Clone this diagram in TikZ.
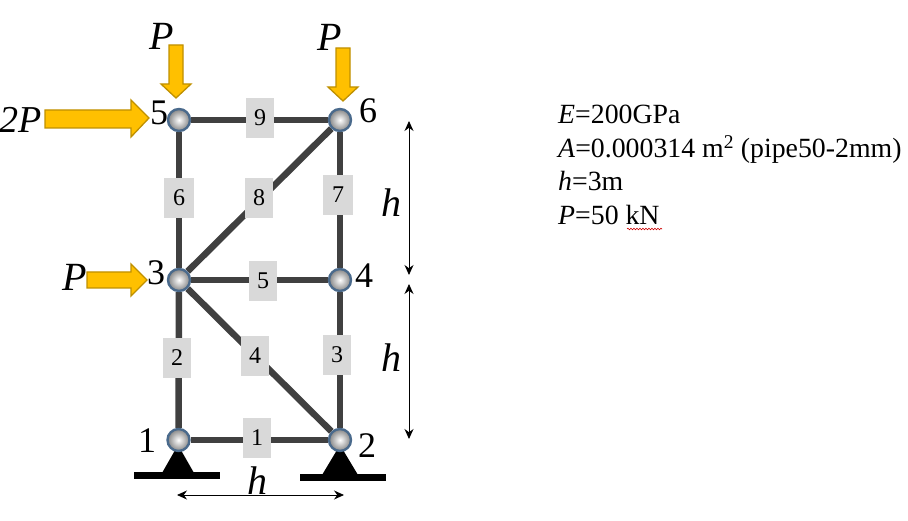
\documentclass[tikz,border=0pt]{standalone}
\usepackage{fontspec}
\setmainfont{Liberation Serif}
\usetikzlibrary{backgrounds,decorations.pathmorphing,arrows.meta}
\definecolor{member}{HTML}{404040}
\definecolor{tagfill}{HTML}{D9D9D9}
\definecolor{loadfill}{HTML}{FFC000}
\definecolor{loadedge}{HTML}{BF9000}
\definecolor{ballrim}{HTML}{4A6A8C}
\tikzset{
  x=1pt,y=-1pt,
  joint/.style={circle,draw=ballrim,line width=2.4pt,minimum size=22pt,inner sep=0pt,inner color=white,outer color=black!48},
  memberline/.style={draw=member,line width=6.5pt},
  tag/.style={fill=tagfill,minimum width=28pt,minimum height=40pt,inner sep=0pt,font=\fontsize{24}{24}\selectfont},
  jointlabel/.style={inner sep=0pt,font=\fontsize{36}{36}\selectfont},
  symlabel/.style={inner sep=0pt,font=\fontsize{40}{40}\selectfont\itshape},
  load/.style={fill=loadfill,draw=loadedge,line width=1.3pt,line join=miter},
  base/.style={fill=black,draw=none},
  dim/.style={draw=black,line width=0.9pt,{Stealth[length=10pt,width=9pt]}-{Stealth[length=10pt,width=9pt]}},
  prop/.style={anchor=base west,inner sep=0pt,font=\fontsize{27.8}{27.8}\selectfont},
}
\begin{document}
\begin{tikzpicture}
\useasboundingbox (0,0) rectangle (908,521);
% supports
\fill[base] (178,445) -- (162,473) -- (194,473) -- cycle;
\fill[base] (134,472) rectangle (220,479);
\fill[base] (340,445) -- (322,475) -- (358,475) -- cycle;
\fill[base] (300,474) rectangle (386,481);
% joints
\node[joint] (n1) at (178.5,440) {};
\node[joint] (n2) at (340,440) {};
\node[joint] (n3) at (179,280) {};
\node[joint] (n4) at (340,280) {};
\node[joint] (n5) at (179,120) {};
\node[joint] (n6) at (340,120) {};
% member tags
\node[tag] (t1) at (257,438) {1};
\node[tag] (t2) at (177,358) {2};
\node[tag] (t3) at (337,355) {3};
\node[tag] (t4) at (255,356) {4};
\node[tag] (t5) at (263,281) {5};
\node[tag,minimum width=30pt] (t6) at (179,198) {6};
\node[tag,minimum width=30pt] (t7) at (338,195) {7};
\node[tag] (t8) at (259,198) {8};
\node[tag] (t9) at (260,118) {9};
% members
\begin{scope}[on background layer]
\draw[memberline] (n1) -- (n2);
\draw[memberline] (n1) -- (n3);
\draw[memberline] (n2) -- (n4);
\draw[memberline] (n2) -- (n3);
\draw[memberline] (n3) -- (n4);
\draw[memberline] (n3) -- (n5);
\draw[memberline] (n4) -- (n6);
\draw[memberline] (n3) -- (n6);
\draw[memberline] (n5) -- (n6);
\end{scope}
% loads
\draw[load] (45,110) -- (131,110) -- (131,100) -- (149,118) -- (131,137) -- (131,128) -- (45,128) -- cycle;
\draw[load] (169,45) -- (183,45) -- (183,84) -- (191,84) -- (176,98) -- (161,84) -- (169,84) -- cycle;
\draw[load] (336,48) -- (350,48) -- (350,87) -- (358,87) -- (343,101) -- (328,87) -- (336,87) -- cycle;
\draw[load] (87,272) -- (131,272) -- (131,264) -- (147,280) -- (131,296) -- (131,288) -- (87,288) -- cycle;
% labels
\node[jointlabel] (l1) at (147,441) {1};
\node[jointlabel] (l2) at (367,446) {2};
\node[jointlabel] (l3) at (156,273) {3};
\node[jointlabel] (l4) at (364,276) {4};
\node[jointlabel] (l5) at (159,113) {5};
\node[jointlabel] (l6) at (368,111) {6};
\node[symlabel] (p1) at (162,36) {P};
\node[symlabel] (p2) at (330,37) {P};
\node[symlabel] (p3) at (75,277) {P};
\node[symlabel,font=\fontsize{38}{38}\selectfont\itshape] (p4) at (21,120) {2P};
\node[symlabel] (h1) at (391,203) {h};
\node[symlabel] (h2) at (391,358) {h};
\node[symlabel] (h3) at (257,481) {h};
% dimensions
\coordinate (d1a) at (177,495);
\coordinate (d1b) at (344,495);
\coordinate (d2a) at (409,121);
\coordinate (d2b) at (409,275);
\coordinate (d3a) at (409,284);
\coordinate (d3b) at (409,439);
\draw[dim] (d1a) -- (d1b);
\draw[dim] (d2a) -- (d2b);
\draw[dim] (d3a) -- (d3b);
% properties
\node[prop] (e) at (558,124) {\textit{E}=200GPa};
\node[prop] (a) at (558,158) {\textit{A}=0.000314 m\textsuperscript{2} (pipe50-2mm)};
\node[prop] (hh) at (558,191) {\textit{h}=3m};
\node[prop] (pp) at (558,225) {\textit{P}=50 kN};
\coordinate (s1) at (627,229);
\coordinate (s2) at (662,229);
\draw[red!80!black,line width=0.6pt,decorate,decoration={snake,amplitude=0.8pt,segment length=3pt}] (s1) -- (s2);
\end{tikzpicture}
\end{document}
